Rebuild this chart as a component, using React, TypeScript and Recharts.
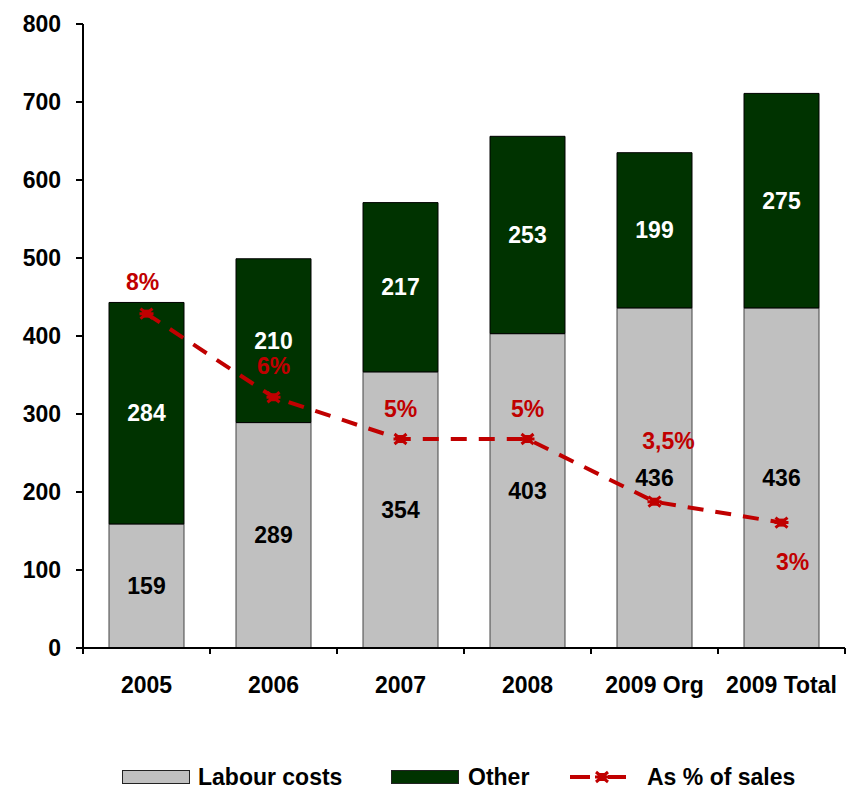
import React from 'react'
import {
  Bar,
  ComposedChart,
  LabelList,
  Line,
  XAxis,
  YAxis,
} from 'recharts'

const years = ['2005', '2006', '2007', '2008', '2009 Org', '2009 Total']
const labourCosts = [159, 289, 354, 403, 436, 436]
const other = [284, 210, 217, 253, 199, 275]
const pctOfSales = [8, 6, 5, 5, 3.5, 3]
const pctLabels = ['8%', '6%', '5%', '5%', '3,5%', '3%']
const yTicks = [0, 100, 200, 300, 400, 500, 600, 700, 800]

const GRAY = '#c0c0c0'
const GREEN = '#003300'
const RED = '#c00000'
const FONT = '"Liberation Sans", Arial, sans-serif'

// label offsets for the % labels (dx, dy from the point)
const pctOffsets = [
  [-4, -32],
  [0, -31],
  [0, -30],
  [0, -30],
  [14, -61],
  [11, 39],
]

const data = years.map((year, i) => ({
  year,
  labour: labourCosts[i],
  other: other[i],
  pct: pctOfSales[i],
}))

const BAND = 127

function XTick(props: any) {
  const { x, y, payload, index } = props
  return (
    <g>
      <line x1={x - BAND / 2} x2={x - BAND / 2} y1={y} y2={y + 6} stroke="#000" strokeWidth={2} />
      {index === years.length - 1 && (
        <line x1={x + BAND / 2} x2={x + BAND / 2} y1={y} y2={y + 6} stroke="#000" strokeWidth={2} />
      )}
      <text x={x} y={y + 45} textAnchor="middle" fontSize={23} fontWeight="bold" fill="#000">
        {payload.value}
      </text>
    </g>
  )
}

function Marker({ cx, cy }: any) {
  if (cx == null || cy == null) return null
  return (
    <g stroke={RED} strokeWidth={3} fill={RED}>
      <path d={`M${cx - 6},${cy - 5}L${cx + 6},${cy + 5}M${cx - 6},${cy + 5}L${cx + 6},${cy - 5}M${cx - 7},${cy}L${cx + 7},${cy}`} />
      <rect x={cx - 4} y={cy - 4} width={8} height={8} stroke="none" />
    </g>
  )
}

function PctLabel(props: any) {
  const { x, y, index } = props
  const [dx, dy] = pctOffsets[index]
  return (
    <text
      x={x + dx}
      y={y + dy}
      textAnchor="middle"
      dominantBaseline="central"
      fontSize={23}
      fontWeight="bold"
      fill={RED}
    >
      {pctLabels[index]}
    </text>
  )
}

function LegendRow() {
  const text: React.CSSProperties = {
    position: 'absolute',
    top: 764,
    fontSize: 23,
    fontWeight: 'bold',
    lineHeight: '26px',
    whiteSpace: 'nowrap',
  }
  const swatch: React.CSSProperties = {
    position: 'absolute',
    top: 770,
    width: 68,
    height: 14,
    boxSizing: 'border-box',
    border: '1px solid #222',
  }
  return (
    <>
      <div style={{ ...swatch, left: 122, background: GRAY }} />
      <div style={{ ...text, left: 198 }}>Labour costs</div>
      <div style={{ ...swatch, left: 391, background: GREEN }} />
      <div style={{ ...text, left: 468 }}>Other</div>
      <svg style={{ position: 'absolute', left: 566, top: 765 }} width={64} height={24}>
        <line x1={4} x2={24} y1={12} y2={12} stroke={RED} strokeWidth={4} />
        <line x1={42} x2={60} y1={12} y2={12} stroke={RED} strokeWidth={4} />
        <Marker cx={36} cy={12} />
      </svg>
      <div style={{ ...text, left: 647 }}>As % of sales</div>
    </>
  )
}

export default function App() {
  return (
    <div
      style={{
        position: 'absolute',
        left: 0,
        top: 0,
        width: 846,
        height: 789,
        background: '#fff',
        fontFamily: FONT,
        color: '#000',
      }}
    >
      <ComposedChart
        width={846}
        height={789}
        data={data}
        margin={{ top: 24, right: 1, left: 0, bottom: 0 }}
        barCategoryGap={26}
      >
        <XAxis
          dataKey="year"
          height={141}
          tickLine={false}
          tickSize={0}
          tickMargin={0}
          axisLine={{ stroke: '#000', strokeWidth: 2 }}
          tick={<XTick />}
          interval={0}
        />
        <YAxis
          yAxisId="left"
          domain={[0, 800]}
          ticks={yTicks}
          width={83}
          tickSize={7}
          tickMargin={15}
          axisLine={{ stroke: '#000', strokeWidth: 2 }}
          tickLine={{ stroke: '#000', strokeWidth: 2 }}
          tick={{ fill: '#000', fontSize: 23, fontWeight: 'bold' }}
        />
        <YAxis yAxisId="pct" orientation="right" domain={[0, 14.93]} hide />
        <Bar
          yAxisId="left"
          dataKey="labour"
          stackId="a"
          fill={GRAY}
          stroke="#444"
          strokeWidth={1}
          isAnimationActive={false}
        >
          <LabelList dataKey="labour" position="center" fill="#000" fontSize={23} fontWeight="bold" />
        </Bar>
        <Bar
          yAxisId="left"
          dataKey="other"
          stackId="a"
          fill={GREEN}
          stroke="#000"
          strokeWidth={1}
          isAnimationActive={false}
        >
          <LabelList dataKey="other" position="center" fill="#fff" fontSize={23} fontWeight="bold" />
        </Bar>
        <Line
          yAxisId="pct"
          type="linear"
          dataKey="pct"
          stroke={RED}
          strokeWidth={4}
          strokeDasharray="16 12"
          dot={<Marker />}
          activeDot={false}
          isAnimationActive={false}
        >
          <LabelList dataKey="pct" content={<PctLabel />} />
        </Line>
      </ComposedChart>
      <LegendRow />
    </div>
  )
}
